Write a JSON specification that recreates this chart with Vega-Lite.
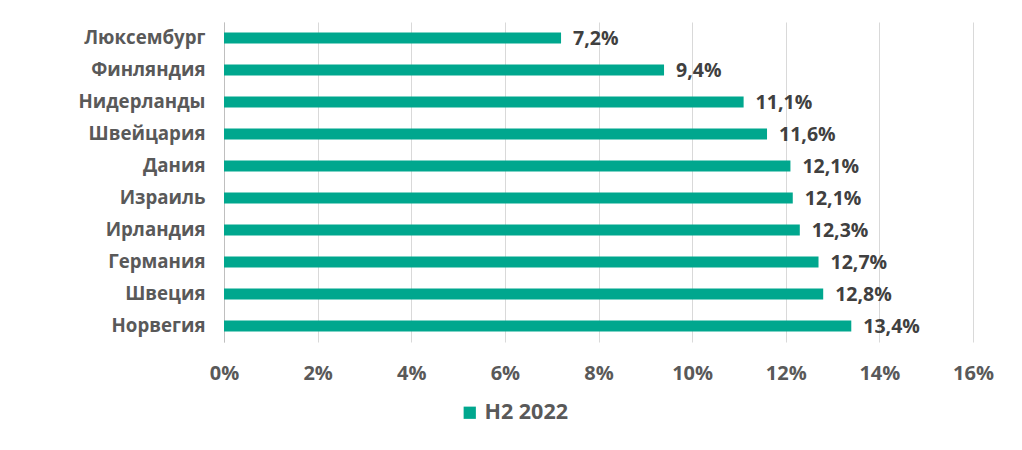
{
  "$schema": "https://vega.github.io/schema/vega-lite/v6.json",
  "width": 749,
  "height": 320,
  "autosize": "none",
  "padding": {"left": 224, "top": 22, "right": 49, "bottom": 108},
  "background": "white",
  "data": {"values": [
    {"country": "Люксембург", "value": 7.2, "label": "7,2%", "series": "H2 2022"},
    {"country": "Финляндия", "value": 9.4, "label": "9,4%", "series": "H2 2022"},
    {"country": "Нидерланды", "value": 11.1, "label": "11,1%", "series": "H2 2022"},
    {"country": "Швейцария", "value": 11.6, "label": "11,6%", "series": "H2 2022"},
    {"country": "Дания", "value": 12.1, "label": "12,1%", "series": "H2 2022"},
    {"country": "Израиль", "value": 12.15, "label": "12,1%", "series": "H2 2022"},
    {"country": "Ирландия", "value": 12.3, "label": "12,3%", "series": "H2 2022"},
    {"country": "Германия", "value": 12.7, "label": "12,7%", "series": "H2 2022"},
    {"country": "Швеция", "value": 12.8, "label": "12,8%", "series": "H2 2022"},
    {"country": "Норвегия", "value": 13.4, "label": "13,4%", "series": "H2 2022"}
  ]},
  "encoding": {
    "y": {"field": "country", "type": "nominal", "sort": null, "title": null,
      "axis": {"domain": true, "domainColor": "#bfbfbf", "ticks": false, "labelPadding": 19,
        "labelFont": "Open Sans", "labelFontSize": 18.7, "labelFontWeight": "bold", "labelColor": "#595959", "grid": false}},
    "x": {"field": "value", "type": "quantitative", "title": null,
      "scale": {"domain": [0, 16], "nice": false},
      "axis": {"values": [0, 2, 4, 6, 8, 10, 12, 14, 16], "labelExpr": "datum.value + '%'", "labelFlush": false,
        "domain": false, "ticks": false, "grid": true, "gridColor": "#d9d9d9", "labelPadding": 21,
        "labelFont": "Open Sans", "labelFontSize": 20, "labelFontWeight": "bold", "labelColor": "#595959"}}
  },
  "layer": [
    {
      "mark": {"type": "bar", "size": 11},
      "encoding": {
        "color": {"field": "series", "type": "nominal", "scale": {"range": ["#00A78E"]},
          "legend": {"title": null, "orient": "none", "legendX": 235, "legendY": 380, "symbolType": "square",
            "symbolSize": 150, "labelFont": "Open Sans", "labelFontSize": 21.5, "labelFontWeight": "bold",
            "labelColor": "#595959", "symbolStrokeWidth": 0, "labelOffset": 4}}
      }
    },
    {
      "mark": {"type": "text", "align": "left", "dx": 12, "dy": 1, "font": "Open Sans", "fontSize": 19.5, "fontWeight": "bold", "color": "#404040"},
      "encoding": {"text": {"field": "label"}}
    }
  ],
  "config": {"view": {"stroke": null}}
}
